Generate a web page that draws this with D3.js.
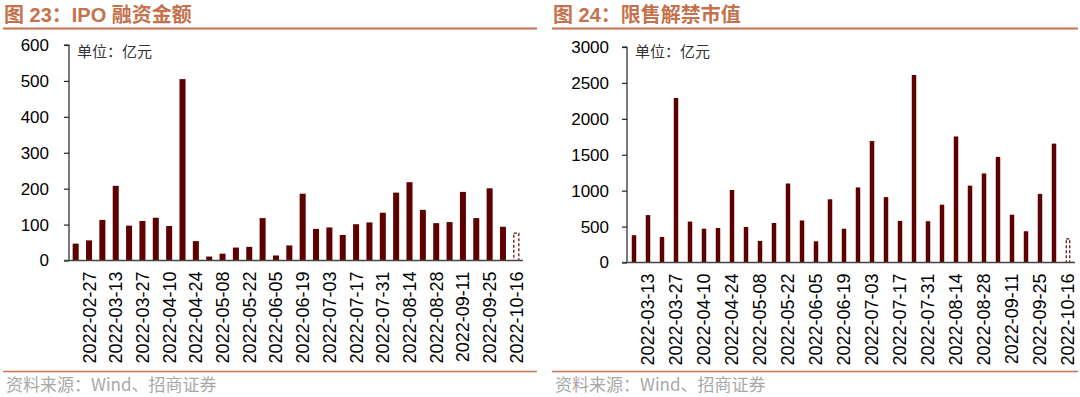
<!DOCTYPE html>
<html><head><meta charset="utf-8">
<script src="https://cdn.jsdelivr.net/npm/d3@7"></script>
<style>
body{margin:0;background:#fff;}
svg{display:block;}
</style></head>
<body>
<svg id="c" width="1080" height="397"></svg>
<script>
// ---- data ----
const ipoDates = ["2022-02-20","2022-02-27","2022-03-06","2022-03-13","2022-03-20","2022-03-27","2022-04-03","2022-04-10","2022-04-17","2022-04-24","2022-05-01","2022-05-08","2022-05-15","2022-05-22","2022-05-29","2022-06-05","2022-06-12","2022-06-19","2022-06-26","2022-07-03","2022-07-10","2022-07-17","2022-07-24","2022-07-31","2022-08-07","2022-08-14","2022-08-21","2022-08-28","2022-09-04","2022-09-11","2022-09-18","2022-09-25","2022-10-09","2022-10-16"];
const ipoValues = [47,56,113,208,97,110,119,96,505,54,11,19,36,38,118,14,42,186,88,92,71,101,106,133,189,218,141,104,107,191,118,201,94,76];
const ipoTicks = [0,100,200,300,400,500,600];

const unlockDates = ["2022-03-06","2022-03-13","2022-03-20","2022-03-27","2022-04-03","2022-04-10","2022-04-17","2022-04-24","2022-05-01","2022-05-08","2022-05-15","2022-05-22","2022-05-29","2022-06-05","2022-06-12","2022-06-19","2022-06-26","2022-07-03","2022-07-10","2022-07-17","2022-07-24","2022-07-31","2022-08-07","2022-08-14","2022-08-21","2022-08-28","2022-09-04","2022-09-11","2022-09-18","2022-09-25","2022-10-09","2022-10-16"];
const unlockValues = [380,660,355,2290,570,470,480,1010,495,300,550,1100,585,295,880,470,1045,1690,910,580,2610,575,805,1755,1070,1240,1470,665,435,955,1655,330];
const unlockTicks = [0,500,1000,1500,2000,2500,3000];

const titles = ["图 23：IPO 融资金额", "图 24：限售解禁市值"];
const unitText = "单位：亿元";
const sourceText = "资料来源：Wind、招商证券";

// ---- drawing ----
const svg = d3.select("#c");
const TITLE_C = "#c5714c";
const BAR_C = "#5e0000";
const CJK = "'Noto Sans CJK SC', sans-serif";
const NUM = "'Liberation Sans', Arial, sans-serif";

function panel(opt){
  const g = svg.append("g");
  // title
  g.append("text").attr("x", opt.left + 1).attr("y", 22)
    .attr("font-family", "'Liberation Sans', 'Noto Sans CJK SC', sans-serif")
    .attr("font-weight", "bold").attr("font-size", 20).attr("fill", TITLE_C)
    .text(opt.title);
  g.append("line").attr("x1", opt.left).attr("x2", opt.right)
    .attr("y1", 28.5).attr("y2", 28.5).attr("stroke", TITLE_C).attr("stroke-width", 2);
  // bottom line + source
  g.append("line").attr("x1", opt.left).attr("x2", opt.right)
    .attr("y1", 371.5).attr("y2", 371.5).attr("stroke", TITLE_C).attr("stroke-width", 1.5);
  g.append("text").attr("x", opt.left + 3).attr("y", 391)
    .attr("font-family", CJK).attr("font-size", 17).attr("fill", "#a8a8a8")
    .text(sourceText);

  const x = d3.scaleBand().domain(opt.dates).range([opt.x0, opt.x1]).paddingInner(opt.pad).paddingOuter(opt.pad/2);
  const y = d3.scaleLinear().domain([0, opt.ticks[opt.ticks.length-1]]).range([opt.y0, opt.y1]);

  // bars
  const n = opt.values.length;
  g.selectAll("rect.bar").data(opt.values).join("rect")
    .attr("class","bar")
    .attr("x", (d,i)=> x(opt.dates[i]) + (i===n-1 ? 0.5 : 0))
    .attr("width", (d,i)=> x.bandwidth() - (i===n-1 ? 1 : 0))
    .attr("y", d=> y(d))
    .attr("height", d=> y(0) - y(d))
    .attr("fill", (d,i)=> i===n-1 ? "#fff" : BAR_C)
    .attr("stroke", (d,i)=> i===n-1 ? BAR_C : "none")
    .attr("stroke-width", 1.2)
    .attr("stroke-dasharray", (d,i)=> i===n-1 ? "3,2" : null);

  // y axis
  const ya = g.append("g").attr("transform", `translate(${opt.x0},0)`)
    .call(d3.axisLeft(y).tickValues(opt.ticks).tickSize(5).tickPadding(opt.tpad).tickFormat(d3.format("d")));
  ya.select(".domain").attr("stroke", "#222").attr("stroke-width", 1.2).attr("d", `M-5,${opt.y1}H0V${opt.y0}`);
  ya.selectAll(".tick line").attr("stroke", "#222").attr("stroke-width", 1.2);
  ya.selectAll(".tick text").attr("font-family", NUM).attr("font-size", 17).attr("fill", "#000");

  // x axis
  const labels = opt.dates.filter((d,i)=> i % 2 === 1);
  const xa = g.append("g").attr("transform", `translate(0,${opt.y0})`)
    .call(d3.axisBottom(x).tickValues(labels).tickSize(0).tickPadding(0));
  xa.select(".domain").attr("stroke", "#444").attr("stroke-width", 1.5).attr("d", `M${opt.x0-5},0H${opt.x1}`);
  xa.selectAll(".tick text")
    .attr("font-family", NUM).attr("font-size", 18).attr("fill", "#000")
    .attr("transform", "rotate(-90)")
    .attr("text-anchor", "end")
    .attr("x", -11).attr("y", 0).attr("dy", "0.36em");

  // unit label
  g.append("text").attr("x", opt.x0 + 8).attr("y", 57)
    .attr("font-family", CJK).attr("font-size", 15).attr("fill", "#333")
    .text(unitText);
}

panel({title: titles[0], left: 3, right: 537, dates: ipoDates, values: ipoValues, ticks: ipoTicks,
       x0: 69, x1: 523, y0: 260.5, y1: 45, pad: 0.55, tpad: 15});
panel({title: titles[1], left: 552, right: 1078, dates: unlockDates, values: unlockValues, ticks: unlockTicks,
       x0: 627, x1: 1075, y0: 262.5, y1: 47, pad: 0.68, tpad: 13});
</script>
</body></html>
